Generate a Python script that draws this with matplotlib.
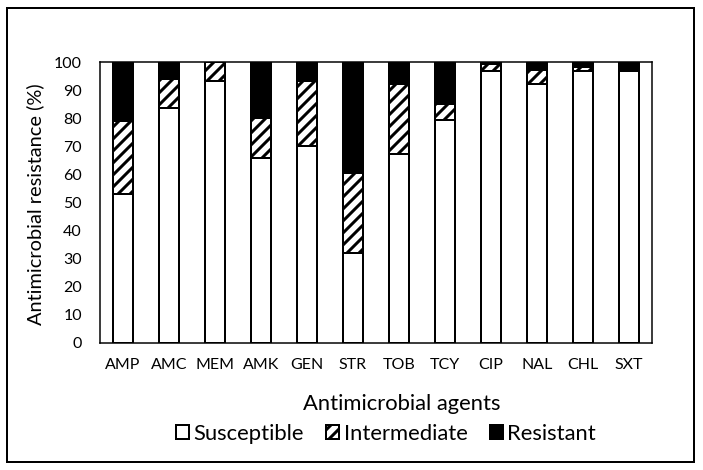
import matplotlib
matplotlib.use("Agg")
import matplotlib.pyplot as plt
from matplotlib.patches import Rectangle, Patch
import numpy as np

categories = ["AMP", "AMC", "MEM", "AMK", "GEN", "STR", "TOB", "TCY", "CIP", "NAL", "CHL", "SXT"]
susceptible = [53.0, 83.5, 93.2, 65.7, 70.2, 31.9, 67.1, 79.4, 96.8, 92.0, 96.8, 96.8]
intermediate = [26.0, 10.3, 6.8, 14.3, 23.0, 28.5, 24.9, 5.6, 2.5, 5.2, 1.3, 0.0]
resistant = [21.0, 6.2, 0.0, 20.0, 6.8, 39.6, 8.0, 15.0, 0.7, 2.8, 1.9, 3.2]
yticks = [0, 10, 20, 30, 40, 50, 60, 70, 80, 90, 100]

plt.rcParams['font.family'] = ['Lato', 'DejaVu Sans']
plt.rcParams['hatch.linewidth'] = 3.0

DPI = 72
fig = plt.figure(figsize=(703 / DPI, 470 / DPI), dpi=DPI)
ax = fig.add_axes([100 / 703, 1 - 343 / 470, 552 / 703, 281 / 470])

x = np.arange(len(categories))
w = 0.43
s = np.array(susceptible)
i = np.array(intermediate)
r = np.array(resistant)
ax.bar(x, s, w, color="white", edgecolor="black", linewidth=2)
ax.bar(x, i, w, bottom=s, color="white", edgecolor="black", linewidth=2, hatch="//")
ax.bar(x, r, w, bottom=s + i, color="black", edgecolor="black", linewidth=2)

ax.set_xlim(-0.5, len(categories) - 0.5)
ax.set_ylim(0, 100)
ax.set_yticks(yticks)
ax.set_xticks(x)
ax.set_xticklabels(categories)
ax.tick_params(axis="both", length=0, labelsize=16)
ax.tick_params(axis="y", pad=18)
ax.tick_params(axis="x", pad=15)
for sp in ax.spines.values():
    sp.set_linewidth(1.5)
    sp.set_color("black")

fig.text(35 / 703, 1 - 204 / 470, "Antimicrobial resistance (%)", rotation=90,
         ha="center", va="center", fontsize=20)
fig.text(402 / 703, 1 - 404 / 470, "Antimicrobial agents", ha="center", va="center", fontsize=22)

handles = [
    Patch(facecolor="white", edgecolor="black", linewidth=2),
    Patch(facecolor="white", edgecolor="black", linewidth=2, hatch="//"),
    Patch(facecolor="black", edgecolor="black", linewidth=2),
]
fig.legend(handles, ["Susceptible", "Intermediate", "Resistant"], ncol=3, frameon=False,
           loc="center", bbox_to_anchor=(386 / 703, 1 - 434 / 470), fontsize=22,
           handlelength=0.6, handleheight=0.6, handletextpad=0.2, columnspacing=1.0,
           borderpad=0.0)

fig.patches.append(Rectangle((7 / 703, 1 - 462 / 470), 687 / 703, 454 / 470,
                             transform=fig.transFigure, fill=False, edgecolor="black",
                             linewidth=2))

fig.savefig("out.png", dpi=DPI)
